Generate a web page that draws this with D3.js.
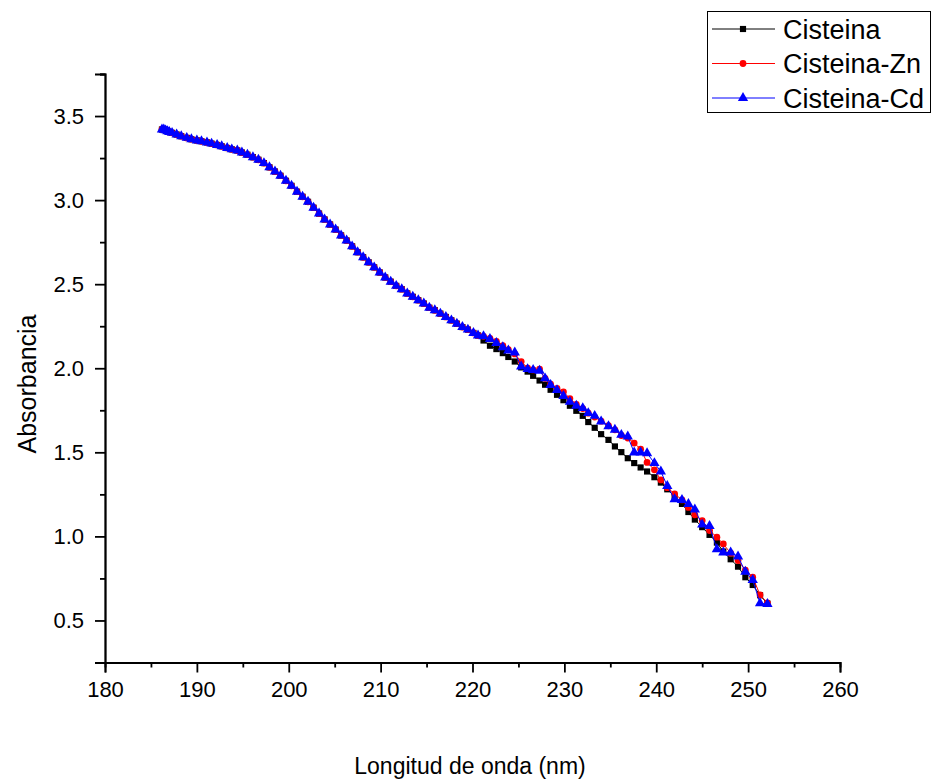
<!DOCTYPE html>
<html>
<head>
<meta charset="utf-8">
<script src="https://cdn.jsdelivr.net/npm/d3@7"></script>
<style>
  body { margin: 0; background: #fff; }
  svg { display: block; font-family: "Liberation Sans", Arial, sans-serif; }
</style>
</head>
<body>
<svg id="chart" width="933" height="784"></svg>
<script>
// wavelengths where the three spectra coincide
const commonWl = [186.2, 186.4, 186.6, 186.8, 187.0, 187.3, 187.8, 188.3, 188.9, 189.4,
  190.0, 190.5, 191.1, 191.6, 192.2, 192.7, 193.3, 193.8, 194.4, 194.9,
  195.5, 196.1, 196.7, 197.3, 197.9, 198.5, 199.1, 199.7, 200.3, 200.9,
  201.5, 202.1, 202.7, 203.3, 203.9, 204.5, 205.1, 205.7, 206.3, 206.9,
  207.5, 208.1, 208.7, 209.3, 209.9, 210.5, 211.1, 211.7, 212.3, 212.9,
  213.5, 214.1, 214.7, 215.3, 215.9, 216.5, 217.1, 217.7, 218.3, 218.9,
  219.5, 220.1, 220.6];
const commonAbs = [3.42, 3.42, 3.415, 3.41, 3.405, 3.40, 3.39, 3.38, 3.37, 3.362,
  3.355, 3.35, 3.343, 3.336, 3.328, 3.32, 3.31, 3.302, 3.295, 3.283,
  3.27, 3.255, 3.24, 3.22, 3.195, 3.17, 3.145, 3.115, 3.085, 3.05,
  3.02, 2.99, 2.955, 2.92, 2.885, 2.855, 2.825, 2.79, 2.76, 2.725,
  2.69, 2.66, 2.63, 2.60, 2.57, 2.54, 2.515, 2.49, 2.47, 2.445,
  2.425, 2.405, 2.385, 2.36, 2.345, 2.325, 2.305, 2.285, 2.265, 2.245,
  2.23, 2.21, 2.195];

// wavelengths where the spectra separate
const tailWl = [221.2, 221.9, 222.6, 223.3, 223.9, 224.6, 225.3, 226.0, 226.6, 227.3,
  227.9, 228.5, 229.2, 229.9, 230.6, 231.3, 232.0, 232.6, 233.3, 234.0,
  234.8, 235.5, 236.2, 236.9, 237.6, 238.3, 239.0, 239.8, 240.5, 241.2,
  242.0, 242.8, 243.5, 244.2, 245.0, 245.8, 246.6, 247.3, 248.1, 248.9,
  249.7, 250.5, 251.3, 252.1];
const cisteinaTail = [2.165, 2.134, 2.114, 2.09, 2.067, 2.04, 2.005, 1.98, 1.955, 1.927,
  1.902, 1.872, 1.842, 1.81, 1.777, 1.747, 1.717, 1.68, 1.646, 1.608,
  1.574, 1.535, 1.501, 1.465, 1.436, 1.41, 1.386, 1.352, 1.32, 1.28,
  1.237, 1.193, 1.145, 1.10, 1.055, 1.009, 0.963, 0.91, 0.864, 0.82,
  0.757, 0.711, 0.65, 0.60];
const znTail = [2.19, 2.178, 2.16, 2.135, 2.11, 2.085, 2.04, 2.0, 1.99, 1.995,
  1.94, 1.905, 1.88, 1.86, 1.82, 1.785, 1.76, 1.733, 1.71, 1.685,
  1.658, 1.634, 1.60, 1.585, 1.555, 1.519, 1.44, 1.396, 1.336, 1.29,
  1.253, 1.217, 1.172, 1.128, 1.094, 1.035, 0.995, 0.955, 0.90, 0.856,
  0.80, 0.757, 0.652, 0.605];
const cdTail = [2.19, 2.174, 2.15, 2.125, 2.106, 2.094, 2.01, 1.995, 1.99, 1.985,
  1.94, 1.90, 1.87, 1.835, 1.80, 1.777, 1.763, 1.733, 1.717, 1.683,
  1.655, 1.634, 1.604, 1.594, 1.499, 1.499, 1.495, 1.436, 1.386, 1.30,
  1.221, 1.217, 1.193, 1.16, 1.07, 1.062, 0.924, 0.904, 0.904, 0.88,
  0.79, 0.741, 0.602, 0.598];

const seriesNames = ["Cisteina", "Cisteina-Zn", "Cisteina-Cd"];
const seriesColors = ["#000000", "#ff0000", "#0000ff"];
const seriesSymbols = ["square", "circle", "triangle"];

const xTicks = [180, 190, 200, 210, 220, 230, 240, 250, 260];
const xMinor = [185, 195, 205, 215, 225, 235, 245, 255];
const yTicks = [0.5, 1.0, 1.5, 2.0, 2.5, 3.0, 3.5];
const yMinor = [0.25, 0.75, 1.25, 1.75, 2.25, 2.75, 3.25, 3.75];

const wl = commonWl.concat(tailWl);
const tails = [cisteinaTail, znTail, cdTail];
const series = seriesNames.map((name, i) => ({
  name,
  color: seriesColors[i],
  symbol: seriesSymbols[i],
  points: wl.map((w, j) => [w, j < commonAbs.length ? commonAbs[j] : tails[i][j - commonAbs.length]])
}));

const svg = d3.select("#chart");
const x = d3.scaleLinear().domain([180, 260]).range([105, 840]);
const y = d3.scaleLinear().domain([0.25, 3.75]).range([662.5, 74]);

const symbolType = { square: d3.symbolSquare, circle: d3.symbolCircle, triangle: d3.symbolTriangle };
const symbolSize = { square: 38, circle: 36, triangle: 46 };

// axes
svg.append("g").attr("transform", "translate(0,662.5)")
  .call(d3.axisBottom(x).tickValues(xTicks).tickSize(10).tickPadding(9).tickFormat(d3.format("d")));
svg.append("g").attr("transform", "translate(0,662.5)")
  .call(d3.axisBottom(x).tickValues(xMinor).tickSize(5).tickFormat(""));
svg.append("g").attr("transform", "translate(105,0)")
  .call(d3.axisLeft(y).tickValues(yTicks).tickSize(10).tickPadding(11).tickFormat(d3.format(".1f")));
svg.append("g").attr("transform", "translate(105,0)")
  .call(d3.axisLeft(y).tickValues(yMinor).tickSize(5).tickFormat(""));

svg.selectAll(".domain").attr("stroke-width", 1.8);
svg.selectAll(".tick line").attr("stroke-width", 1.8);
svg.selectAll(".tick text").attr("font-size", 22).attr("fill", "#000")
  .attr("font-family", "'Liberation Sans', Arial, sans-serif");

// data
const line = d3.line().x(d => x(d[0])).y(d => y(d[1]));
series.forEach(s => {
  const g = svg.append("g");
  g.append("path").datum(s.points)
    .attr("d", line).attr("fill", "none").attr("stroke", s.color).attr("stroke-width", 1);
  g.selectAll("path.m").data(s.points).enter().append("path")
    .attr("class", "m")
    .attr("transform", d => `translate(${x(d[0])},${y(d[1])})`)
    .attr("d", d3.symbol().type(symbolType[s.symbol]).size(symbolSize[s.symbol]))
    .attr("fill", s.color);
});

// axis titles
svg.append("text").attr("x", 470).attr("y", 774).attr("text-anchor", "middle")
  .attr("font-size", 23).text("Longitud de onda (nm)");
svg.append("text").attr("transform", "translate(36,384) rotate(-90)").attr("text-anchor", "middle")
  .attr("font-size", 25).text("Absorbancia");

// legend
const legend = svg.append("g");
legend.append("rect").attr("x", 707.5).attr("y", 11.5).attr("width", 223).attr("height", 101)
  .attr("fill", "#fff").attr("stroke", "#000").attr("stroke-width", 1);
series.forEach((s, i) => {
  const ly = 29 + i * 34.5;
  legend.append("line").attr("x1", 712).attr("x2", 775).attr("y1", ly).attr("y2", ly)
    .attr("stroke", s.color).attr("stroke-width", 1);
  legend.append("path").attr("transform", `translate(743,${ly})`)
    .attr("d", d3.symbol().type(symbolType[s.symbol]).size(symbolSize[s.symbol]))
    .attr("fill", s.color);
  legend.append("text").attr("x", 783).attr("y", ly + 9.5).attr("font-size", 27).text(s.name);
});
</script>
</body>
</html>
